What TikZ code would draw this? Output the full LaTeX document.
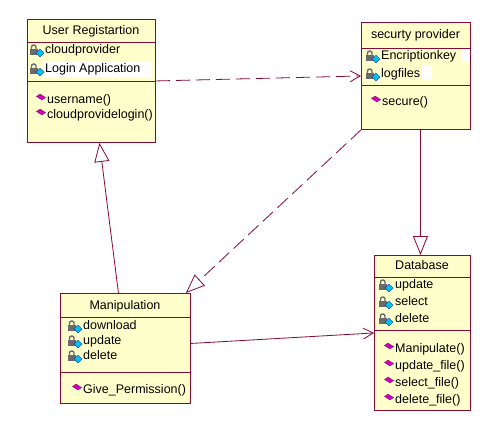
\documentclass[tikz,border=0pt]{standalone}
\usepackage{fontspec}
\setmainfont{Liberation Sans}
\usetikzlibrary{arrows.meta,positioning,calc}
\definecolor{rosered}{RGB}{135,10,50}
\definecolor{paper}{RGB}{255,255,204}
\definecolor{lockgrey}{RGB}{105,105,110}
\definecolor{attcyan}{RGB}{0,195,235}
\definecolor{opmagenta}{RGB}{205,0,205}
\tikzset{
  cls/.style={draw=rosered,fill=paper,line width=0.9pt,inner sep=0pt,anchor=north west},
  ttl/.style={font=\fontsize{12.5}{15}\selectfont,inner sep=0pt},
  mem/.style={font=\fontsize{12.5}{15}\selectfont,anchor=west,inner sep=0pt,
    text height=9pt,text depth=2.5pt},
  sep/.style={draw=rosered,line width=0.9pt},
  gen/.style={draw=rosered,line width=0.8pt,-{Triangle[open,length=19pt,width=15pt]}},
  real/.style={gen,dash pattern=on 14pt off 6pt},
  dep/.style={draw=rosered,line width=0.8pt,dash pattern=on 14pt off 6pt,
    -{Straight Barb[length=10pt,width=11pt]}},
  assoc/.style={draw=rosered,line width=0.8pt,-{Straight Barb[length=10pt,width=11pt]}},
  % member icons
  pics/attr/.style={code={
    \draw[lockgrey,line width=1.4pt,rounded corners=2pt] (-5.5,-1) -- (-5.5,-5) -- (-1,-5) -- (-1,-1);
    \fill[lockgrey] (-7.5,-1.5) rectangle (1,5);
    \fill[attcyan,draw=blue!60!black,line width=0.3pt] (-1,3) -- (3,-1) -- (7,3) -- (3,7) -- cycle;
  }},
  pics/oper/.style={code={
    \fill[opmagenta,draw=purple!70!black,line width=0.3pt] (-4.5,-0.5) -- (-1,-3) -- (4.5,0.5) -- (1,3) -- cycle;
  }},
}
\begin{document}
\begin{tikzpicture}[x=1pt,y=-1pt]
\useasboundingbox (0,0) rectangle (488,421);
\fill[white] (0,0) rectangle (488,421);

% classes
\node[cls,minimum width=128pt,minimum height=123pt] (userreg) at (27,19) {};
\node[cls,minimum width=109pt,minimum height=107pt] (secprov) at (361,22) {};
\node[cls,minimum width=130pt,minimum height=110pt] (manip) at (60,293) {};
\node[cls,minimum width=96pt,minimum height=155pt] (dbase) at (374,255) {};

\fill[white] (44,62) rectangle (152,77);
\fill[white] (462,48) rectangle (469,62);
\fill[white] (422,65) rectangle (432,79);

\draw[sep] (27,42) -- (155,42) (27,81) -- (155,81);
\draw[sep] (361,48) -- (470,48) (361,85) -- (470,85);
\draw[sep] (60,317) -- (190,317) (60,372) -- (190,372);
\draw[sep] (374,277) -- (470,277) (374,330) -- (470,330);

\node[ttl] (userreg-t) at (91,31) {User Registartion};
\node[ttl] (secprov-t) at (415.5,35) {securty provider};
\node[ttl] (manip-t) at (125,306) {Manipulation};
\node[ttl] (dbase-t) at (422,265) {Database};

% attributes
\foreach \t [count=\i from 0] in {cloudprovider,Login Application}{
  \pic at (37,50+\i*19) {attr};
  \node[mem] (userreg-a\i) at (45,50+\i*19) {\t};
}
\foreach \t [count=\i from 0] in {Encriptionkey,logfiles}{
  \pic at (373,56+\i*18) {attr};
  \node[mem] (secprov-a\i) at (381,56+\i*18) {\t};
}
\foreach \t [count=\i from 0] in {download,update,delete}{
  \pic at (75,326+\i*15) {attr};
  \node[mem] (manip-a\i) at (83,326+\i*15) {\t};
}
\foreach \t [count=\i from 0] in {update,select,delete}{
  \pic at (386,285+\i*17) {attr};
  \node[mem] (dbase-a\i) at (395,285+\i*17) {\t};
}

% operations
\foreach \t [count=\i from 0] in {username(),cloudprovidelogin()}{
  \pic at (41,97+\i*15) {oper};
  \node[mem] (userreg-o\i) at (47,100+\i*15) {\t};
}
\pic at (376,99) {oper};
\node[mem] (secprov-o0) at (382,102) {secure()};
\pic at (77,387) {oper};
\node[mem] (manip-o0) at (83,390) {Give\_Permission()};
\foreach \t [count=\i from 0] in {Manipulate(),update\_file(),select\_file(),delete\_file()}{
  \pic at (389,346+\i*17) {oper};
  \node[mem] (dbase-o\i) at (395,349+\i*17) {\t};
}

% relations
\draw[dep] (userreg.east) -- (secprov.west);
\draw[real] (secprov.south west) -- ($(manip.north east)+(-5,0)$);
\draw[gen] ($(manip.north)+(-7,0)$) -- ($(userreg.south)+(8,0)$);
\draw[gen] ($(secprov.south)+(4.5,0)$) -- ($(dbase.north)+(-2,0)$);
\draw[assoc] ($(manip.east)+(0,-5)$) -- (dbase.west);
\end{tikzpicture}
\end{document}
